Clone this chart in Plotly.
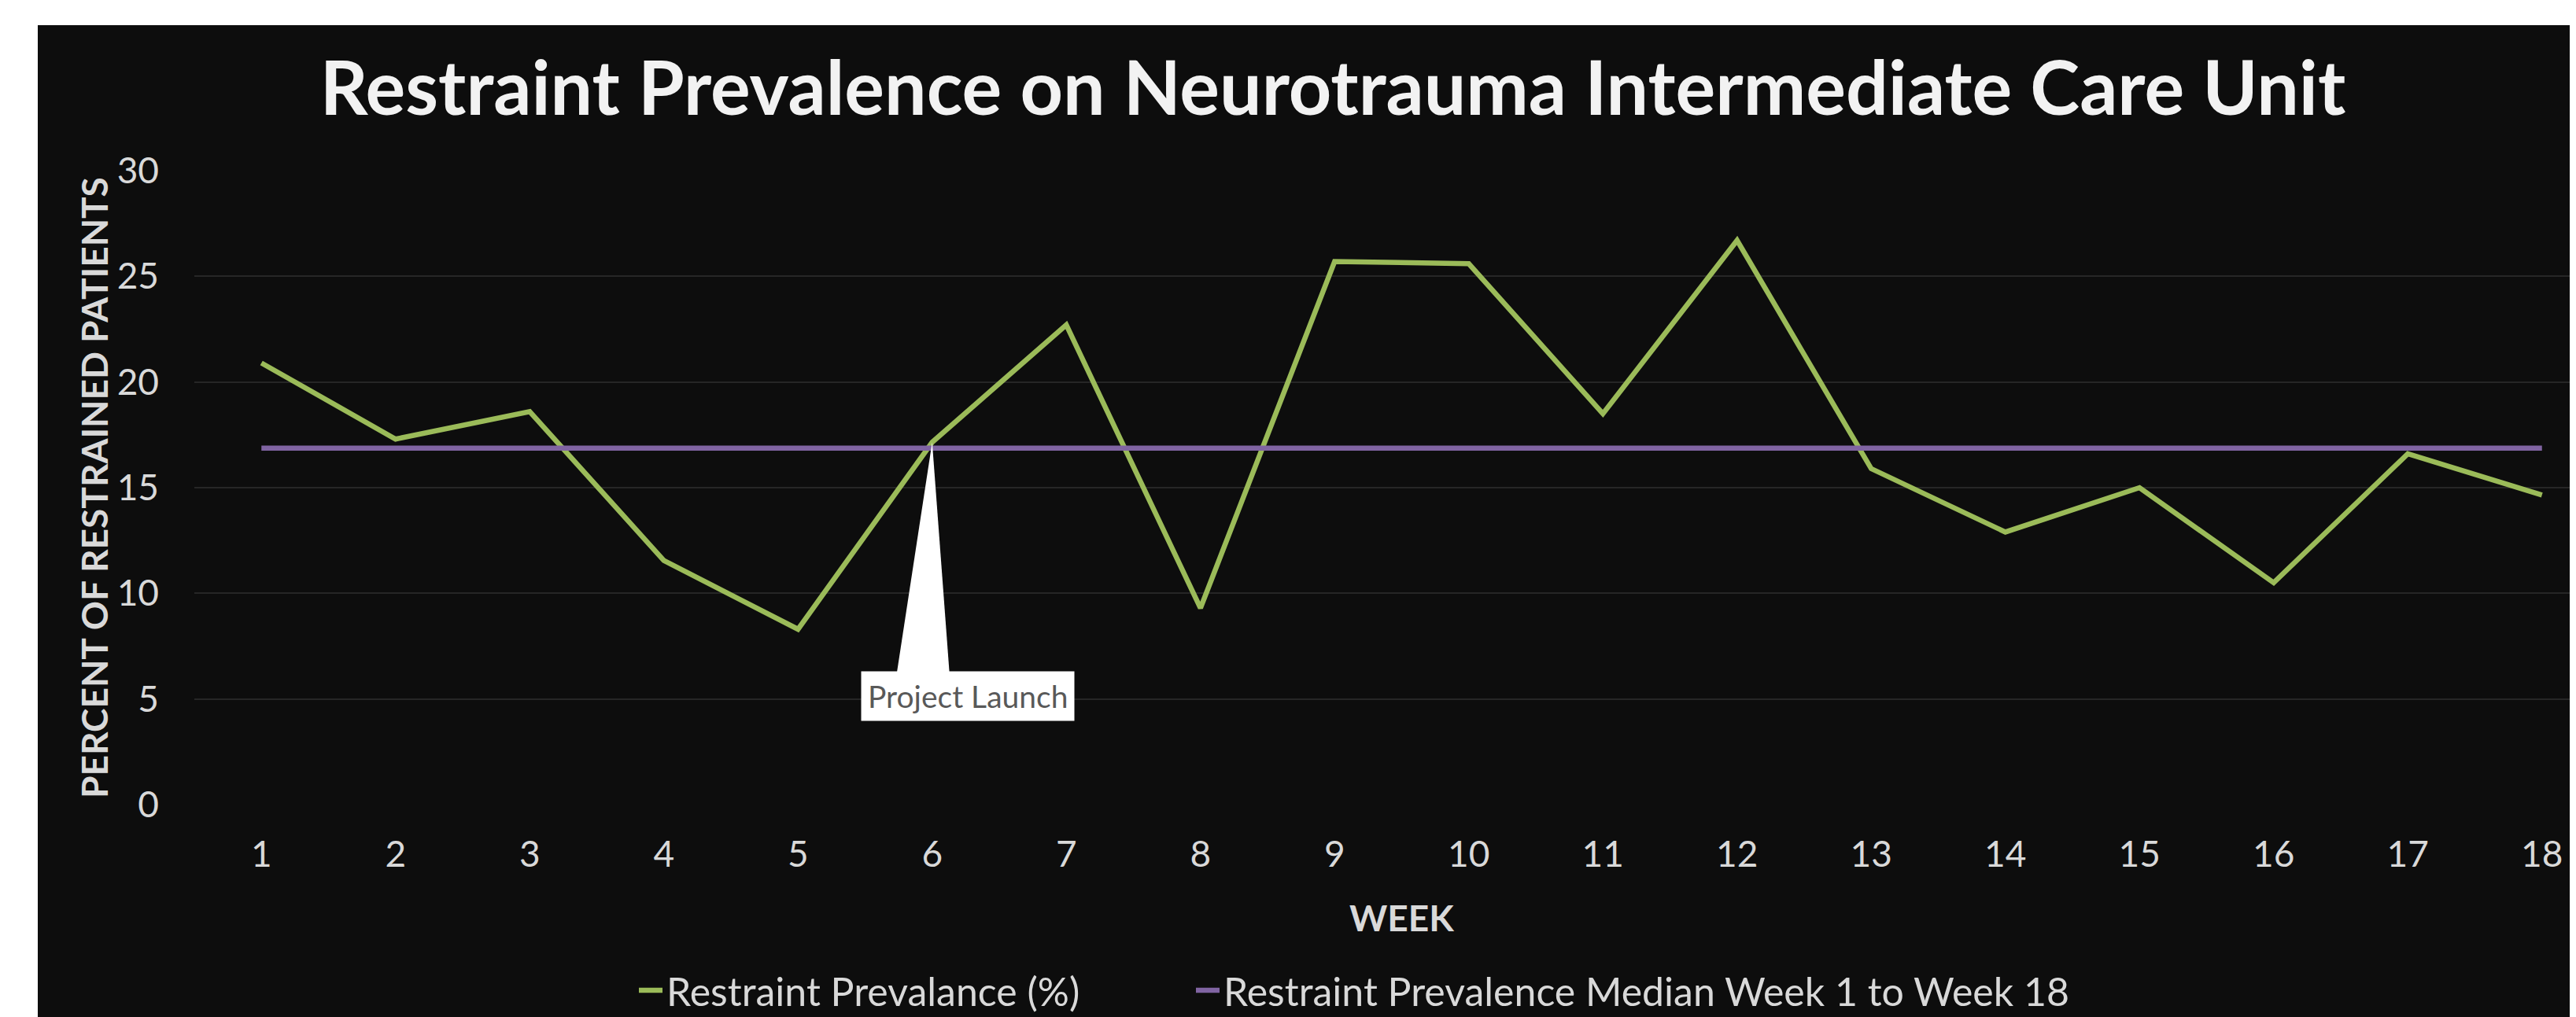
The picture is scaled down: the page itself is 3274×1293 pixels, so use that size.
import plotly.graph_objects as go

weeks = list(range(1, 19))
prevalence = [20.9, 17.3, 18.6, 11.55, 8.3, 17.15, 22.7, 9.3, 25.7, 25.6,
              18.5, 26.7, 15.9, 12.9, 15.0, 10.5, 16.6, 14.65]
median_line = [16.87, 16.87, 16.87, 16.87, 16.87, 16.87, 16.87, 16.87, 16.87,
               16.87, 16.87, 16.87, 16.87, 16.87, 16.87, 16.87, 16.87, 16.87]
y_ticks = [0, 5, 10, 15, 20, 25, 30]
launch_week = 6

OFF = 8  # page body margin
W, H = 3274 - OFF, 1293 - OFF
L = 247 - OFF
T = 217 - OFF
B = H - (1023 - OFF)
R = 0
pw = W - L - R
ph = H - T - B
BG = "#0d0d0d"
GREEN = "#9BBB59"
PURPLE = "#8064A2"
FONT = "Lato"


def px_x(page_x):
    return (page_x - OFF - L) / pw


def px_y(page_y):
    return (H - B - (page_y - OFF)) / ph


fig = go.Figure()
fig.add_trace(go.Scatter(x=weeks, y=prevalence, mode="lines",
                         name="Restraint Prevalance (%)", legendwidth=663,
                         line=dict(color=GREEN, width=6.5)))
fig.add_trace(go.Scatter(x=weeks, y=median_line, mode="lines",
                         name="Restraint Prevalence Median Week 1 to Week 18",
                         line=dict(color=PURPLE, width=6.5)))

launch_y = prevalence[weeks.index(launch_week)]

shapes = [
    dict(type="rect", xref="paper", yref="paper", layer="below",
         x0=px_x(48), x1=px_x(3300), y0=px_y(1310), y1=px_y(32),
         fillcolor=BG, line=dict(width=0)),
    dict(type="path", xref="x", yref="y", xsizemode="pixel", ysizemode="pixel",
         xanchor=launch_week, yanchor=launch_y,
         path="M 0 0 L -45 -294 L 22 -294 Z",
         fillcolor="white", line=dict(width=0), layer="above"),
]

annotations = [
    dict(x=launch_week, y=launch_y, xref="x", yref="y", text="Project Launch",
         showarrow=True, arrowcolor="rgba(0,0,0,0)", arrowwidth=0.1, ax=45, ay=323,
         bgcolor="white", borderpad=8, font=dict(family=FONT, size=39, color="#595959")),
    dict(x=px_x(119), y=px_y(620), xref="paper", yref="paper", showarrow=False,
         text="<b>PERCENT OF RESTRAINED PATIENTS</b>", textangle=-90,
         font=dict(family=FONT, size=46, color="#d9d9d9"),
         xanchor="center", yanchor="middle"),
    dict(x=px_x(1781), y=px_y(1166), xref="paper", yref="paper", showarrow=False,
         text="<b>WEEK</b>", font=dict(family=FONT, size=46, color="#d9d9d9"),
         xanchor="center", yanchor="middle"),
]

fig.update_layout(
    width=W, height=H,
    margin=dict(l=L, r=R, t=T, b=B, pad=0),
    paper_bgcolor="white", plot_bgcolor=BG,
    title=dict(text="<b>Restraint Prevalence on Neurotrauma Intermediate Care Unit</b>",
               xref="container", yref="container", x=(1694 - OFF) / W,
               y=1 - (113 - OFF) / H,
               xanchor="center", yanchor="middle",
               font=dict(family=FONT, size=95, color="#f2f2f2")),
    xaxis=dict(range=[0.5, 0.5 + pw / 170.5], tickmode="array", tickvals=weeks,
               ticktext=[str(w) for w in weeks], showgrid=False, zeroline=False,
               showline=False, ticks="", ticklabelstandoff=32,
               tickfont=dict(family=FONT, size=46, color="#d9d9d9")),
    yaxis=dict(range=[0, 30], tickmode="array", tickvals=y_ticks,
               showgrid=True, gridcolor="#262626", gridwidth=2, zeroline=False,
               showline=False, ticks="", ticklabelstandoff=44,
               tickfont=dict(family=FONT, size=46, color="#d9d9d9")),
    legend=dict(orientation="h", xref="container", yref="container",
                x=(848 - 41 - OFF) / W, y=1 - (1259 - OFF) / H,
                xanchor="left", yanchor="middle",
                font=dict(family=FONT, size=50, color="#d9d9d9"),
                bgcolor="rgba(0,0,0,0)", itemwidth=30),
    shapes=shapes, annotations=annotations, showlegend=True,
)

fig.write_html("out.html")
